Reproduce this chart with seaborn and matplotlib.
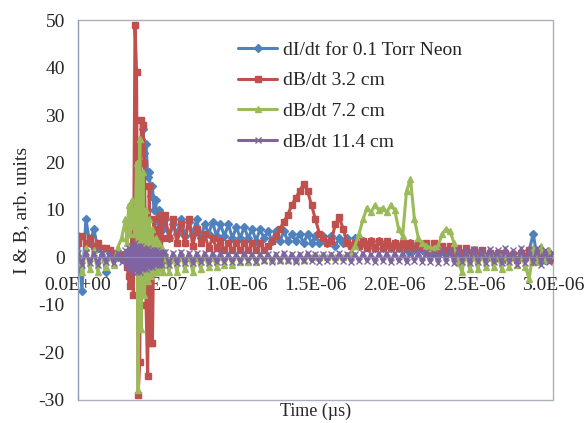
import numpy as np
import pandas as pd
import seaborn as sns
import matplotlib.pyplot as plt

# time grid in microseconds (finer sampling around the discharge spike)
t_a = np.linspace(0.0, 0.275, 12)
t_b = np.linspace(0.30, 0.54, 25)
t_c = np.linspace(0.55, 3.0, 99)

# dI/dt for 0.1 Torr Neon
dI = ([4.5, -7, 8, 3, 6, 2, 1.5, -3, 1, 0.5, 0, 0.5]
      + [0.5, -1, 1, -0.5, 2, 1, 4, 8, 14, 20, 25, 27, 22, 24, 17, 18, 13, 15, 10, 12, 8, 10, 7, 9, 6]
      + [8, 4, 7, 5, 8, 4.5, 7.5, 5, 8, 4, 7, 5, 7.5, 4.5, 7, 4.5, 7, 4,
         6.5, 4, 6.5, 4, 6, 3.5, 6, 4, 5.5, 3.5, 5.5, 3.5, 5.5, 3.5, 5, 3.5,
         5, 3, 5, 3, 4.5, 3, 4.5, 3, 4.5, 2.5, 4, 3, 4, 2.5, 4, 2.5,
         3.5, 2.5, 3.5, 2, 3.5, 2, 3, 2, 3, 2, 3, 1.5, 3, 1.5, 2.5, 1.5,
         2.5, 1, 2, 1, 2, 1, 2, 0.5, 1.5, 0.5, 1.5, 0, 1.5, 0, 1, 0,
         1, -0.5, 1, -0.5, 1, 0, 1, -0.5, 1, 0, 1.5, 5, 0, 1, -0.5, 1, 0])

# dB/dt 3.2 cm
dB_32 = ([3, 4.5, 3, 4, 2.5, 3, 2, 2, 1.5, 1, 0.5, 0.5]
         + [0, -2, -4, -6, 5, -8, 49, 39, -29, -22, 29, 28, 20, -10, -25, 15, -18, -18, 8, -3, 6, 3, 9, 4, 8]
         + [9, 4, 8, 3, 7, 3, 8, 2.5, 6, 3, 5, 2, 4, 2, 3.5, 1.5, 3, 1.5,
            3, 1.5, 3, 1.5, 3, 1.5, 3, 1.5, 2.5, 3.5, 4.5, 6, 7.5, 9, 11, 12.5,
            14, 15.5, 14, 11, 8, 5, 4, 3, 3.5, 7, 8.5, 6, 3, 2.5, 3, 2.5,
            3.5, 2, 3.5, 2, 3.5, 2, 3.5, 2, 3, 2, 3, 2, 3, 2, 3, 2,
            3, 1.5, 3, 1.5, 2.5, 1.5, 2.5, 1, 2, 1, 2, 0.5, 1.5, 0.5, 1.5, 0,
            1, 0, 1, -0.5, 1, 0, 0.5, -0.5, 1, 0, 1.5, -1, 0.5, 0, 1, -0.5, 0.5])

# dB/dt 7.2 cm
dB_72 = ([1, -3, 2, -2.5, 1.5, -3, 1, -2, 0.5, -1.5, 2, 4]
         + [8, 3, 11, 5, 12, 7, 5, 20, -28, 25, -15, 18, -8, 10, -5, 8, -4, 6, -3, 4, -3, 3, -2.5, 2, -3]
         + [1, -3, 0.5, -3, 1, -2.5, 0.5, -3, 0.5, -2.5, 0.5, -2, 0.5, -2, 0.5, -1.5, 0.5, -1.5,
            0.5, -1, 0.5, -1, 0.5, -1, 0.5, -0.5, 0.5, -0.5, 0.5, -0.5, 0.5, -0.5, 0.5, -0.5,
            0.5, -0.5, 0.5, 0, 0.5, 0, 0.5, 0, 0.5, 0, 0.5, 0, 0.5, 1, 2.5, 5,
            8, 10.5, 9.5, 11, 10, 10.5, 9.5, 11, 10, 6, 4.5, 14, 16.5, 8, 4, 3,
            2.5, 2, 2, 2.5, 5, 6, 5.5, 3, -1, -3, 1, -2.5, 1, -2.5, 1, -2,
            1, -2, 1, -2.5, 0.5, -2, 1, -1.5, 0.5, -2, -4.5, 2, -1, 2.5, -0.5, 1.5, 0.5])

# dB/dt 11.4 cm
dB_114 = ([1, -1.5, 1.2, -1.2, 1, -1.5, 1.2, -1, 1, -1.2, 1, -1]
          + [1.5, -2, 2, -2.5, 2.5, -3, 3, -3, 2.5, -3, 2.5, -2.5, 2, -2.5, 2, -2, 1.5, -2, 1.5, -1.5, 1.5, -1.5, 1.2, -1.5, 1.2]
          + [1.2, -1.5, 1, -1.2, 1.2, -1.2, 1, -1.2, 1, -1, 1, -1.2, 1, -1, 1, -1, 0.8, -1,
             0.8, -1, 1, -0.8, 0.8, -1, 0.8, -0.8, 0.8, -1, 0.8, -0.8, 1, -0.8, 0.8, -1,
             0.8, -0.8, 1, -0.8, 0.8, -1, 0.8, -0.8, 0.8, -0.8, 1, -0.8, 0.8, -1, 0.8, -0.8,
             1, -0.8, 0.8, -1, 1, -0.8, 1, -1, 1, -0.8, 1, -1, 1.2, -0.8, 1, -1,
             1.2, -1, 1, -1.2, 1.5, -1, 1.5, -1.2, 1.5, -1, 1.5, -1.2, 1.8, -1, 1.5, -1.2,
             1.8, -1, 1.5, -1.2, 2, -1, 1.5, -1.5, 2, -1.2, 1.5, -1, 2, -1.5, 1.5, -1, 1])

labels = ['dI/dt for 0.1 Torr Neon', 'dB/dt 3.2 cm', 'dB/dt 7.2 cm', 'dB/dt 11.4 cm']
colors = ['#4F81BD', '#C0504D', '#9BBB59', '#8064A2']
markers = ['D', 's', '^', 'x']
xticks = [0, 0.5e-6, 1.0e-6, 1.5e-6, 2.0e-6, 2.5e-6, 3.0e-6]
xticklabels = ['0.0E+00', '5.0E-07', '1.0E-06', '1.5E-06', '2.0E-06', '2.5E-06', '3.0E-06']
yticks = [-30, -20, -10, 0, 10, 20, 30, 40, 50]

t_sec = np.concatenate([t_a, t_b, t_c]) * 1e-6

sns.set_style('white')
plt.rcParams['font.family'] = ['Liberation Serif', 'DejaVu Serif']
plt.rcParams['axes.unicode_minus'] = False

fig = plt.figure(figsize=(5.85, 4.23), dpi=100)
ax = fig.add_axes([0.1333, 0.0544, 0.812, 0.8983])

for vals, lab, col, mk in zip([dI, dB_32, dB_72, dB_114], labels, colors, markers):
    df = pd.DataFrame({'time': t_sec, 'value': vals})
    sns.lineplot(data=df, x='time', y='value', ax=ax, color=col, marker=mk,
                 markersize=4.5, markeredgecolor=col, markeredgewidth=1,
                 linewidth=2.2, label=lab, sort=False, estimator=None)

ax.set_xlim(0, 3.0e-6)
ax.set_ylim(-30, 50)
ax.set_xticks(xticks)
ax.set_xticklabels(xticklabels)
ax.set_yticks(yticks)

# x axis crosses at zero like the spreadsheet chart, box around plot area
ax.spines['bottom'].set_position(('data', 0))
ax.spines['bottom'].set_color('#8f8f8f')
ax.spines['left'].set_color('#8f9bb0')
ax.spines['top'].set_visible(False)
ax.spines['right'].set_visible(False)
ax.patch.set_edgecolor('#a9b1bf')
ax.patch.set_linewidth(1.0)
ax.set_axisbelow(True)

ax.tick_params(axis='x', direction='out', length=4, pad=10, labelsize=14, color='#8f8f8f')
ax.tick_params(axis='y', direction='out', length=4.5, pad=5, labelsize=14, color='#8f9bb0')

ax.set_xlabel('Time (µs)', fontsize=13)
ax.xaxis.set_label_coords(0.5, -0.008)
ax.set_ylabel('I & B, arb. units', fontsize=14)
ax.yaxis.set_label_coords(-0.1, 0.5)

ax.legend(loc='upper left', bbox_to_anchor=(0.337, 0.945), frameon=False,
          fontsize=14, borderpad=0, borderaxespad=0, handlelength=2.0,
          handletextpad=0.3, labelspacing=0.68, numpoints=1)

plt.savefig('out.png', dpi=100)
